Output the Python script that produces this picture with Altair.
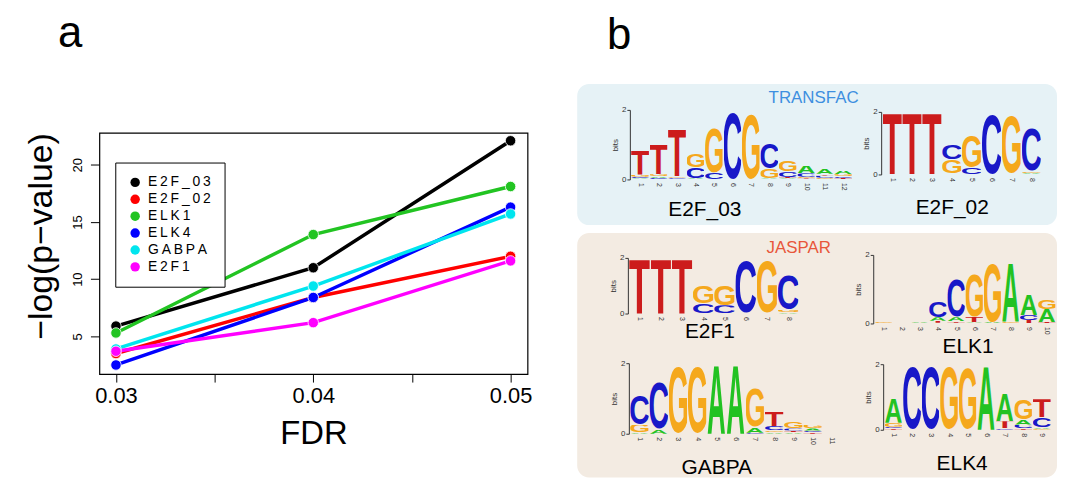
import altair as alt
import pandas as pd
from urllib.parse import quote

# ---------------- panel a data ----------------
fdr = [0.03, 0.04, 0.05]
motifs = ["E2F_03", "E2F_02", "ELK1", "ELK4", "GABPA", "E2F1"]
e2f_03 = [5.9, 11.0, 22.1]
e2f_02 = [3.5, 8.4, 12.0]
elk1 = [5.3, 13.9, 18.1]
elk4 = [2.5, 8.4, 16.3]
gabpa = [3.9, 9.4, 15.7]
e2f1 = [3.7, 6.2, 11.6]
series = [e2f_03, e2f_02, elk1, elk4, gabpa, e2f1]
line_colors = ["#000000", "#ff0000", "#22c422", "#0000ff", "#00e5ee", "#ff00ff"]

# ---------------- panel b data (bits per letter, bottom -> top) ----------------
logo_E2F_03 = [
    [("A", 0.03), ("C", 0.05), ("G", 0.06), ("T", 0.72)],
    [("C", 0.04), ("A", 0.05), ("G", 0.06), ("T", 0.88)],
    [("A", 0.02), ("C", 0.03), ("G", 0.04), ("T", 1.38)],
    [("T", 0.02), ("A", 0.02), ("C", 0.32), ("G", 0.38)],
    [("C", 0.19), ("G", 1.36)],
    [("C", 2.0)],
    [("G", 1.97)],
    [("A", 0.03), ("G", 0.28), ("C", 0.76)],
    [("A", 0.03), ("T", 0.04), ("C", 0.16), ("G", 0.32)],
    [("T", 0.03), ("G", 0.05), ("C", 0.10), ("A", 0.22)],
    [("G", 0.05), ("C", 0.06), ("T", 0.05), ("A", 0.14)],
    [("T", 0.04), ("C", 0.05), ("G", 0.06), ("A", 0.10)],
]
logo_E2F_02 = [
    [("T", 2.0)], [("T", 2.0)], [("T", 2.0)],
    [("A", 0.02), ("G", 0.46), ("C", 0.50)],
    [("C", 0.22), ("G", 1.05)],
    [("C", 2.0)],
    [("A", 0.03), ("G", 1.93)],
    [("A", 0.04), ("G", 0.06), ("C", 1.42)],
]
logo_E2F1 = [
    [("T", 2.0)], [("T", 2.0)], [("T", 2.0)],
    [("C", 0.36), ("G", 0.66)],
    [("C", 0.30), ("G", 0.74)],
    [("C", 1.98)],
    [("G", 1.98)],
    [("A", 0.05), ("G", 0.08), ("C", 1.30)],
]
logo_ELK1 = [
    [("A", 0.01), ("G", 0.03)],
    [],
    [("T", 0.02), ("A", 0.03)],
    [("G", 0.02), ("T", 0.06), ("A", 0.10), ("C", 0.50)],
    [("G", 0.02), ("T", 0.04), ("A", 0.12), ("C", 1.13)],
    [("A", 0.03), ("T", 0.16), ("G", 1.30)],
    [("A", 0.04), ("G", 1.78)],
    [("G", 0.04), ("A", 1.75)],
    [("T", 0.10), ("C", 0.15), ("A", 0.63)],
    [("T", 0.04), ("A", 0.38), ("G", 0.30)],
]
logo_GABPA = [
    [("A", 0.04), ("G", 0.22), ("C", 0.86)],
    [("A", 0.12), ("C", 1.40)],
    [("G", 2.0)],
    [("G", 2.0)],
    [("A", 2.0)],
    [("A", 1.98)],
    [("C", 0.03), ("A", 0.15), ("G", 1.14)],
    [("A", 0.04), ("G", 0.05), ("C", 0.13), ("T", 0.42)],
    [("A", 0.04), ("T", 0.05), ("C", 0.06), ("G", 0.20)],
    [("T", 0.04), ("C", 0.05), ("A", 0.06), ("G", 0.10)],
    [],
]
logo_ELK4 = [
    [("T", 0.04), ("C", 0.05), ("G", 0.12), ("A", 0.78)],
    [("C", 2.0)], [("C", 2.0)], [("G", 2.0)], [("G", 1.98)],
    [("A", 1.98)],
    [("C", 0.04), ("T", 0.22), ("A", 0.86)],
    [("T", 0.04), ("C", 0.12), ("A", 0.15), ("G", 0.62)],
    [("G", 0.03), ("A", 0.05), ("C", 0.30), ("T", 0.55)],
]

letter_colors = {"A": "#22c222", "C": "#1818c8", "G": "#f5a81c", "T": "#cc1c1c"}
# glyph bounding boxes (font-size 100, baseline y=100) for stretching each letter
glyph_box = {"A": (0.5, 28.4, 71.5, 71.6), "C": (4.2, 26.5, 63.6, 75.4),
             "G": (4.2, 26.5, 67.2, 75.4), "T": (2.0, 28.4, 57.0, 71.6)}


def letter_uri(ch):
    x, y, w, h = glyph_box[ch]
    svg = ("<svg xmlns='http://www.w3.org/2000/svg' width='100' height='100' "
           f"viewBox='{x} {y} {w} {h}' preserveAspectRatio='none'>"
           f"<text x='0' y='100' font-family='Liberation Sans, Arial, sans-serif' "
           f"font-weight='bold' font-size='100' fill='{letter_colors[ch]}'>{ch}</text></svg>")
    return "data:image/svg+xml;charset=utf-8," + quote(svg)


letter_url = {k: letter_uri(k) for k in letter_colors}


def logo_frame(cols):
    rows = []
    for i, col in enumerate(cols, start=1):
        base = 0.0
        for letter, h in col:
            rows.append(dict(pos=i, letter=letter, x0=i - 0.48, x1=i + 0.48,
                             y0=base, y1=base + h, url=letter_url[letter]))
            base += h
    return pd.DataFrame(rows)


def logo_chart(cols, name, xr, yr, x_off, y_off, title_x, title_y):
    n = len(cols)
    df = logo_frame(cols)
    return alt.Chart(df).mark_image(aspect=False).encode(
        x=alt.X("x0:Q",
                scale=alt.Scale(domain=[0.5, n + 0.5], range=xr, nice=False, zero=False),
                axis=alt.Axis(orient="bottom", offset=x_off, values=list(range(1, n + 1)),
                              format="d", labelAngle=90, labelFontSize=7, labelPadding=2,
                              labelColor="#333333", domain=False, ticks=False, grid=False,
                              labelFlush=False, labelOverlap=False, title=name,
                              titleFontSize=21, titleFontWeight="normal", titleColor="black",
                              titleX=title_x, titleY=title_y, titleAlign="center",
                              titleBaseline="alphabetic", titleAngle=0)),
        x2="x1:Q",
        y=alt.Y("y0:Q",
                scale=alt.Scale(domain=[0, 2], range=yr, nice=False, zero=False),
                axis=alt.Axis(orient="left", offset=y_off, values=[0, 1, 2], format="d",
                              labelFontSize=8, labelColor="#333333", tickSize=3, labelPadding=1,
                              domainColor="#333333", tickColor="#333333", grid=False,
                              title="bits", titleFontSize=8, titlePadding=2,
                              titleFontWeight="normal", titleColor="#333333", minExtent=0)),
        y2="y1:Q",
        url="url:N",
    )


# ---------------- panel a ----------------
rows = []
for name, vals in zip(motifs, series):
    for f, v in zip(fdr, vals):
        rows.append(dict(motif=name, fdr=f, value=v))
df_a = pd.DataFrame(rows)

cscale = alt.Scale(domain=motifs, range=line_colors)
xenc = alt.X("fdr:Q",
             scale=alt.Scale(domain=[0.02916, 0.05086], nice=False, zero=False),
             axis=alt.Axis(values=[0.03, 0.035, 0.04, 0.045, 0.05],
                           labelExpr="round(datum.value*1000) % 10 == 0 ? format(datum.value, '.2f') : ''",
                           tickSize=8, tickColor="black", domain=False, grid=False,
                           labelFontSize=22, labelColor="black", labelPadding=4,
                           labelOverlap=False, labelFlush=False,
                           title="FDR", titleFontSize=33, titleFontWeight="normal",
                           titleColor="black", titlePadding=11))
yenc = alt.Y("value:Q",
             scale=alt.Scale(domain=[1.7, 22.8], nice=False, zero=False),
             axis=alt.Axis(values=[5, 10, 15, 20], tickSize=9, tickColor="black",
                           domain=False, grid=False, labelAngle=270, labelAlign="center",
                           labelBaseline="middle", labelFontSize=13, labelColor="black",
                           labelPadding=13, title="−log(p−value)", titleFontSize=34,
                           titleFontWeight="normal", titleColor="black", titlePadding=13,
                           titleY=104, titleAlign="center"))

base = alt.Chart(df_a).encode(x=xenc, y=yenc)
lines = base.mark_line(strokeWidth=3.5).encode(
    color=alt.Color("motif:N", scale=cscale, legend=None))
points = base.mark_point(filled=True, size=110, opacity=1, stroke="white", strokeWidth=0.8).encode(
    color=alt.Color("motif:N", scale=cscale,
                    legend=alt.Legend(orient="none", legendX=16, legendY=30, title=None,
                                      labelFontSize=14, labelColor="black",
                                      labelExpr="join(split(datum.label, ''), '\u2009')",
                                      symbolType="circle", symbolSize=90, symbolStrokeWidth=0,
                                      strokeColor="black", fillColor="white", padding=13,
                                      rowPadding=3, labelOffset=6)))

plot_a = alt.layer(lines, points).resolve_legend(color="independent").properties(
    width=431, height=243,
    view=alt.ViewBackground(stroke="black", strokeWidth=1.2),
)

# empty strip that lowers the plot of panel a below the boxes of panel b
spacer = alt.Chart(pd.DataFrame({"v": [0]})).mark_point(opacity=0).encode(
    x=alt.value(0), y=alt.value(0)).properties(
    width=431, height=49, view=alt.ViewBackground(strokeWidth=0))

panel_a = alt.vconcat(spacer, plot_a, spacing=0, bounds="flush").properties(
    title=alt.TitleParams("a", anchor="start", fontSize=44, dx=34, offset=26))

# ---------------- panel b ----------------
transfac_label = alt.Chart(pd.DataFrame({"db": ["TRANSFAC"]})).mark_text(
    fontSize=17, color="#3d8fe0", align="center", baseline="middle").encode(
    x=alt.value(238), y=alt.value(14), text="db:N")
jaspar_label = alt.Chart(pd.DataFrame({"db": ["JASPAR"]})).mark_text(
    fontSize=17, color="#e8563a", align="center", baseline="middle").encode(
    x=alt.value(223), y=alt.value(15), text="db:N")

BW = 483
transfac = alt.layer(
    logo_chart(logo_E2F_03, "E2F_03", [54, 277], [96, 26], -45, -53, 128, 35),
    logo_chart(logo_E2F_02, "E2F_02", [307, 467], [91, 28], -50, -306, 377, 38),
    transfac_label,
).resolve_scale(x="independent", y="independent").properties(
    width=BW, height=142,
    view=alt.ViewBackground(fill="#e6f2f6", cornerRadius=12, strokeWidth=0))

JH = 246
jaspar = alt.layer(
    logo_chart(logo_E2F1, "E2F1", [52, 223], [81, 25], 82 - JH, -51, 133, 23),
    logo_chart(logo_ELK1, "ELK1", [299, 482], [91, 22], 92 - JH, -298, 393, 28),
    logo_chart(logo_GABPA, "GABPA", [53, 266], [202, 131], 203 - JH, -52, 140, 39),
    logo_chart(logo_ELK4, "ELK4", [309, 477], [198, 132], 199 - JH, -308, 387, 39),
    jaspar_label,
).resolve_scale(x="independent", y="independent").properties(
    width=BW, height=JH,
    view=alt.ViewBackground(fill="#f3ebe2", cornerRadius=12, strokeWidth=0))

panel_b = alt.vconcat(transfac, jaspar, spacing=8).properties(
    title=alt.TitleParams("b", anchor="start", fontSize=44, dx=30, offset=26))

chart = alt.hconcat(panel_a, panel_b, spacing=45).properties(
    padding={"left": 16, "top": 2, "right": 0, "bottom": 0}
).configure(font="Liberation Sans").configure_view(strokeWidth=0).configure_title(
    fontWeight="normal", font="Liberation Sans", color="black")

chart.save("out.html", embed_options={"renderer": "svg", "actions": False})
